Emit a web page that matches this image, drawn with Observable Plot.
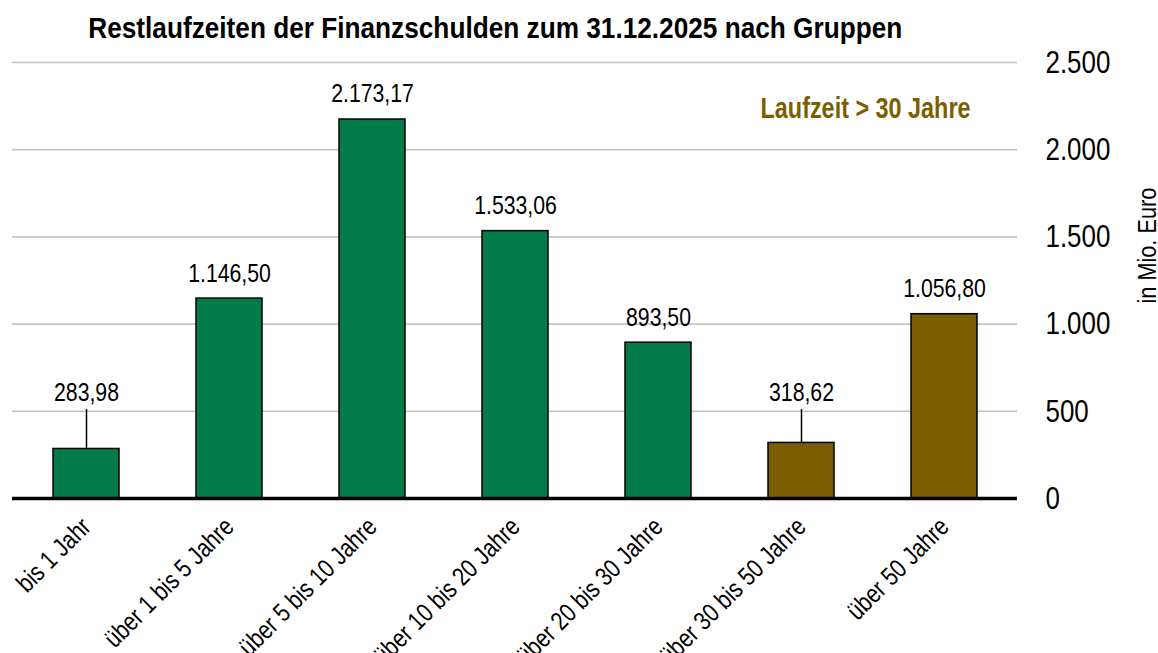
<!DOCTYPE html>
<html>
<head>
<meta charset="utf-8">
<script src="https://cdn.jsdelivr.net/npm/d3@7"></script>
<script src="https://cdn.jsdelivr.net/npm/@observablehq/plot@0.6"></script>
<style>
  body { margin: 0; background: #fff; font-family: "Liberation Sans", Arial, sans-serif; }
  #title { width: 990px; height: 50px; line-height: 56px; text-align: center; font-weight: bold; font-size: 28.8px; color: #000; white-space: nowrap; }
  #title span { display: inline-block; transform: scaleX(0.91); transform-origin: center; }
  #chart svg { display: block; overflow: visible; }
</style>
</head>
<body>
<div id="title"><span>Restlaufzeiten der Finanzschulden zum 31.12.2025 nach Gruppen</span></div>
<div id="chart"></div>
<script>
const categories = ["bis 1 Jahr", "über 1 bis 5 Jahre", "über 5 bis 10 Jahre", "über 10 bis 20 Jahre", "über 20 bis 30 Jahre", "über 30 bis 50 Jahre", "über 50 Jahre"];
const values = [283.98, 1146.50, 2173.17, 1533.06, 893.50, 318.62, 1056.80];
const groups = ["bis 30", "bis 30", "bis 30", "bis 30", "bis 30", "über 30", "über 30"];
const yTicks = [0, 500, 1000, 1500, 2000, 2500];
const legendText = "Laufzeit > 30 Jahre";
const unitLabel = "in Mio. Euro";

const GREEN = "#017b4a";
const BROWN = "#7b5e00";
const FONT = '"Liberation Sans", Arial, sans-serif';

const locale = d3.formatLocale({decimal: ",", thousands: ".", grouping: [3], currency: ["", " €"]});
const fmtVal = locale.format(",.2f");
const fmtTick = locale.format(",.0f");

const leaderTop = 510;
const data = categories.map((c, i) => ({cat: c, value: values[i], group: groups[i]}));
const small = data.filter(d => d.value < leaderTop);
const tall = data.filter(d => d.value >= leaderTop);

// font sizes (px) and horizontal condensing factor per text role
const FS = {ytick: 32, xtick: 26, value: 25, legend: 30, unit: 26.5};
const SX = {32: 0.81, 26: 0.82, 25: 0.85, 30: 0.78, 26.5: 0.82};

const chart = Plot.plot({
  width: 1158,
  height: 603,
  marginTop: 12,
  marginBottom: 155,
  marginLeft: 12,
  marginRight: 141,
  style: {fontFamily: FONT, background: "#fff", color: "#000", overflow: "visible"},
  x: {domain: categories, paddingInner: 0.54, paddingOuter: 0.27, axis: null},
  y: {domain: [0, 2500], axis: null},
  color: {domain: ["bis 30", "über 30"], range: [GREEN, BROWN]},
  marks: [
    Plot.gridY(yTicks, {stroke: "#c4c4c4", strokeOpacity: 1, strokeWidth: 1.6}),
    Plot.axisY(yTicks, {anchor: "right", tickSize: 0, tickPadding: 28, textAnchor: "start", fontSize: FS.ytick, tickFormat: fmtTick, label: null}),
    Plot.axisX({tickRotate: -45, tickSize: 0, tickPadding: 24, fontSize: FS.xtick, label: null}),
    Plot.barY(data, {x: "cat", y: "value", fill: "group", stroke: "#000", strokeWidth: 1.5}),
    Plot.ruleX(small, {x: "cat", y1: "value", y2: () => leaderTop, stroke: "#000", strokeWidth: 1.5}),
    Plot.text(small, {x: "cat", y: () => leaderTop, text: d => fmtVal(d.value), fontSize: FS.value, lineAnchor: "bottom", dy: -9, fill: "#000"}),
    Plot.text(tall, {x: "cat", y: "value", text: d => fmtVal(d.value), fontSize: FS.value, lineAnchor: "bottom", dy: -17, fill: "#000"}),
    Plot.ruleY([0], {stroke: "#000", strokeWidth: 3.5}),
    Plot.text([legendText], {frameAnchor: "top-right", textAnchor: "end", dx: -47, dy: 34, fontSize: FS.legend, fontWeight: "bold", fill: BROWN}),
    Plot.text([unitLabel], {frameAnchor: "right", y: () => 1450, rotate: -90, textAnchor: "middle", dx: 130, fontSize: FS.unit, fill: "#000"})
  ]
});
document.getElementById("chart").appendChild(chart);

// condense glyphs along the text direction (narrow typeface look)
chart.querySelectorAll("text").forEach(t => {
  const holder = t.closest("[font-size]");
  const fs = holder ? parseFloat(holder.getAttribute("font-size")) : parseFloat(getComputedStyle(t).fontSize);
  const sx = SX[fs];
  if (!sx) return;
  let tr = t.getAttribute("transform") || "";
  const x = t.getAttribute("x");
  if (x !== null && isFinite(+x)) {
    tr = `${tr} translate(${+x},0)`;
    t.removeAttribute("x");
  }
  t.setAttribute("transform", `${tr} scale(${sx},1)`);
});
</script>
</body>
</html>
